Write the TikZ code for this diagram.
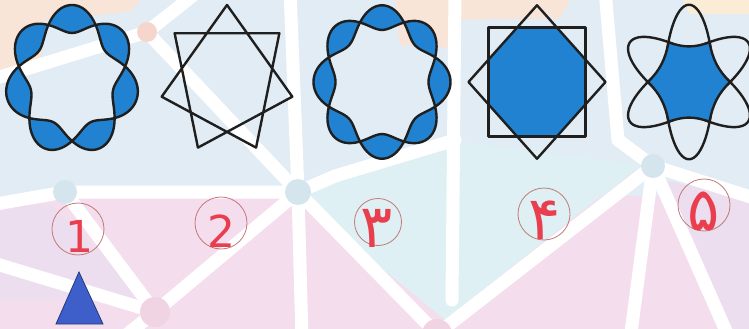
\documentclass[tikz,border=0pt]{standalone}
\usepackage{fontspec}
\newfontfamily\numfont{DejaVu Sans}
\newfontfamily\arabicfont[Script=Arabic]{DejaVu Sans}
\usepackage{tikz}
\definecolor{figblue}{RGB}{32,130,208}
\definecolor{pastelblue}{RGB}{226,236,244}
\definecolor{pastelcyan}{RGB}{222,240,243}
\definecolor{pastelpink}{RGB}{244,221,236}
\definecolor{pastellilac}{RGB}{236,222,238}
\definecolor{pastelpeach}{RGB}{249,228,216}
\definecolor{pastelsand}{RGB}{251,236,214}
\definecolor{dotblue}{RGB}{212,229,238}
\definecolor{dotpink}{RGB}{240,212,228}
\definecolor{dotpeach}{RGB}{246,214,204}
\definecolor{numred}{RGB}{232,62,78}
\definecolor{ringred}{RGB}{196,120,120}
\definecolor{triblue}{RGB}{62,94,202}

\begin{document}
\begin{tikzpicture}[x=1pt,y=1pt,
  outline/.style={line width=2.4pt,draw=black!88,line join=round},
  wline/.style={white,line width=13pt,line cap=round,line join=round},
  numring/.style={circle,draw=ringred,line width=0.8pt,minimum size=52pt,inner sep=0pt},
  numlabel/.style={text=numred,font=\numfont\fontsize{44}{44}\selectfont,inner sep=0pt},
  faslabel/.style={text=numred,font=\arabicfont\fontsize{60}{60}\selectfont,inner sep=0pt}]
\useasboundingbox (0,0) rectangle (749,-329);
% background mosaic
\fill[pastelblue] (0,0) rectangle (749,-196);
\fill[pastelpink] (0,-196) rectangle (749,-329);
\fill[pastelpeach] (0,0) -- (140,0) -- (130,-12) -- (45,-20) -- (40,-66) -- (0,-72) -- cycle;
\fill[pastelpeach] (395,0) -- (570,0) -- (560,-18) -- (450,-20) -- (447,-48) -- (400,-45) -- cycle;
\fill[pastelsand] (683,0) -- (749,0) -- (749,-14) -- (690,-14) -- cycle;
\fill[pastelcyan] (305,-205) -- (330,-175) -- (448,-140) -- (640,-165) -- (445,-320) -- cycle;
\fill[pastellilac] (0,-205) -- (50,-205) -- (150,-300) -- (0,-300) -- cycle;
\fill[pastellilac] (665,-180) -- (749,-200) -- (749,-329) -- (720,-329) -- cycle;
\coordinate (J1) at (65,-192);
\coordinate (J2) at (298,-192);
\coordinate (J3) at (653,-166);
\coordinate (J4) at (155,-312);
\coordinate (J5) at (147,-32);
\coordinate (J6) at (437,-334);
\draw[wline] (-10,-205) -- (J1) -- (J2) -- (335,-176) -- (455,-140);
\draw[wline] (-10,-80) -- (J5) -- (200,10);
\draw[wline] (J5) -- (J2) -- (J6);
\draw[wline] (290,10) -- (J2) -- (302,-340);
\draw[wline] (455,10) -- (452,-300);
\draw[wline] (J1) -- (J4) -- (J2);
\draw[wline] (-10,-262) -- (J4) -- (120,-340);
\draw[wline] (605,10) -- (618,-140) -- (J3) -- (J6);
\draw[wline] (J3) -- (630,-340);
\draw[wline] (J3) -- (730,-340);
\draw[wline] (J3) -- (760,-200);
\fill[dotblue] (J1) circle (12) (J2) circle (13) (J3) circle (12);
\fill[dotpink] (J4) circle (15) (J6) circle (15);
\fill[dotpeach] (J5) circle (10);
% figure 1
\begin{scope}[shift={(72,-80)},yscale=1.12]
\filldraw[outline,fill=figblue,even odd rule] plot[domain=0:718,samples=360] (\x:{54.5+12.5*cos(3.5*(\x-90))}) -- cycle;
\end{scope}
% figure 2
\begin{scope}[shift={(227,-80)},yscale=1.12]
\draw[outline] (90:67) \foreach \k in {2,4,6,1,3,5} { -- (90+\k*360/7:67) } -- cycle;
\end{scope}
% figure 3
\begin{scope}[shift={(382,-82)},yscale=1.12]
\filldraw[outline,fill=figblue,even odd rule] plot[domain=0:358,samples=180] (\x:{57.5+11*cos(4*\x)}) -- cycle
  plot[domain=0:358,samples=180] (\x:{57.5-11*cos(4*\x)}) -- cycle;
\end{scope}
% figure 4
\begin{scope}[shift={(537,-82)},yscale=1.12]
\begin{scope}
\clip (-48.5,-48.5) rectangle (48.5,48.5);
\fill[figblue] (0:68.5) -- (90:68.5) -- (180:68.5) -- (270:68.5) -- cycle;
\end{scope}
\draw[outline] (-48.5,-48.5) rectangle (48.5,48.5);
\draw[outline] (0:68.5) -- (90:68.5) -- (180:68.5) -- (270:68.5) -- cycle;
\end{scope}
% figure 5
\begin{scope}[shift={(689,-82)},yscale=1.12]
\foreach \a in {90,30,150} \draw[outline,rotate=\a] (0,0) ellipse [x radius=69,y radius=24];
\filldraw[outline,fill=figblue] (0:41) \foreach \k in {0,...,5} { .. controls (\k*60+20:31) and (\k*60+40:31) .. (\k*60+60:41) } -- cycle;
\end{scope}
% numbers
\node[numring] (c1) at (78,-229) {};
\node[numring] (c2) at (221,-223) {};
\node[numring,minimum size=47pt] (c3) at (378,-222) {};
\node[numring] (c4) at (544,-214) {};
\node[numring] (c5) at (704,-205) {};
\node[numlabel] (n1) at (79,-236) {1};
\node[numlabel] (n2) at (221,-231) {2};
\node[faslabel] (n3) at (377,-228) {۳};
\node[faslabel] (n4) at (545,-220) {۴};
\node[faslabel] (n5) at (704,-211) {۵};
\filldraw[fill=triblue,draw=triblue!60!black,line width=0.8pt] (79,-272) -- (103,-324) -- (56,-324) -- cycle;
\end{tikzpicture}
\end{document}
